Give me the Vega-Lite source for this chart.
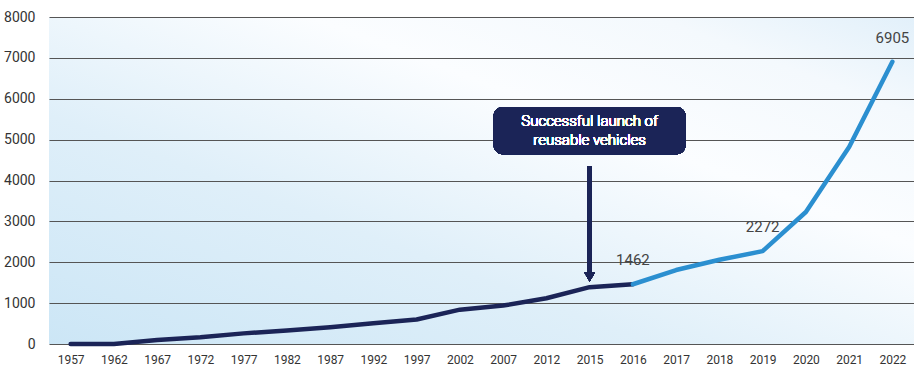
{
  "$schema": "https://vega.github.io/schema/vega-lite/v6.json",
  "width": 865,
  "height": 327,
  "autosize": {"type": "none"},
  "padding": {"left": 49, "top": 17, "right": 0, "bottom": 33},
  "background": "#ffffff",
  "config": {
    "view": {
      "stroke": null,
      "fill": {
        "gradient": "linear",
        "x1": 0, "y1": 1, "x2": 1, "y2": 0,
        "stops": [
          {"offset": 0, "color": "#cce6f6"},
          {"offset": 0.35, "color": "#dfeff9"},
          {"offset": 0.65, "color": "#fbfdff"},
          {"offset": 0.85, "color": "#f4f9fd"},
          {"offset": 1, "color": "#e2f0fa"}
        ]
      }
    },
    "font": "Roboto"
  },
  "data": {
    "values": [
      {"year": "1957", "value": 0, "series": "early"},
      {"year": "1962", "value": 0, "series": "early"},
      {"year": "1967", "value": 100, "series": "early"},
      {"year": "1972", "value": 165, "series": "early"},
      {"year": "1977", "value": 260, "series": "early"},
      {"year": "1982", "value": 330, "series": "early"},
      {"year": "1987", "value": 410, "series": "early"},
      {"year": "1992", "value": 505, "series": "early"},
      {"year": "1997", "value": 600, "series": "early"},
      {"year": "2002", "value": 840, "series": "early"},
      {"year": "2007", "value": 940, "series": "early"},
      {"year": "2012", "value": 1120, "series": "early"},
      {"year": "2015", "value": 1390, "series": "early"},
      {"year": "2016", "value": 1462, "series": "early", "label": "1462"},
      {"year": "2016", "value": 1462, "series": "recent"},
      {"year": "2017", "value": 1810, "series": "recent"},
      {"year": "2018", "value": 2060, "series": "recent"},
      {"year": "2019", "value": 2272, "series": "recent", "label": "2272"},
      {"year": "2020", "value": 3230, "series": "recent"},
      {"year": "2021", "value": 4820, "series": "recent"},
      {"year": "2022", "value": 6905, "series": "recent", "label": "6905"}
    ]
  },
  "encoding": {
    "x": {
      "field": "year",
      "type": "ordinal",
      "scale": {"type": "point", "padding": 0.5},
      "axis": {
        "title": null,
        "labelAngle": 0,
        "ticks": false,
        "domain": false,
        "labelFontSize": 12,
        "labelColor": "#333333",
        "labelPadding": 10,
        "grid": false
      }
    }
  },
  "layer": [
    {
      "mark": {"type": "line", "strokeWidth": 4.5, "strokeCap": "round", "strokeJoin": "round"},
      "encoding": {
        "y": {
          "field": "value",
          "type": "quantitative",
          "scale": {"domain": [0, 8000], "nice": false},
          "axis": {
            "title": null,
            "values": [0, 1000, 2000, 3000, 4000, 5000, 6000, 7000, 8000],
            "format": "d",
            "ticks": false,
            "domain": false,
            "labelFontSize": 14,
            "labelColor": "#333333",
            "labelPadding": 14,
            "grid": true,
            "gridColor": "#555555",
            "gridWidth": 1,
            "gridOpacity": 1
          }
        },
        "color": {
          "field": "series",
          "type": "nominal",
          "scale": {"domain": ["early", "recent"], "range": ["#1b2457", "#2b8fd0"]},
          "legend": null
        }
      }
    },
    {
      "transform": [{"filter": "datum.label"}],
      "mark": {"type": "text", "fontSize": 15, "color": "#444444", "dy": -24},
      "encoding": {
        "y": {"field": "value", "type": "quantitative"},
        "text": {"field": "label"}
      }
    },
    {
      "mark": {"type": "rule", "strokeWidth": 4, "color": "#1b2457"},
      "encoding": {
        "x": {"datum": "2015"},
        "y": {"datum": 4350, "type": "quantitative"},
        "y2": {"datum": 1700}
      }
    },
    {
      "mark": {"type": "point", "shape": "triangle-down", "filled": true, "size": 110, "color": "#1b2457", "opacity": 1},
      "encoding": {
        "x": {"datum": "2015"},
        "y": {"datum": 1640, "type": "quantitative"}
      }
    },
    {
      "mark": {"type": "bar", "width": 192, "cornerRadius": 9, "color": "#1b2457"},
      "encoding": {
        "x": {"datum": "2015"},
        "y": {"datum": 5800, "type": "quantitative"},
        "y2": {"datum": 4640}
      }
    },
    {
      "mark": {"type": "text", "fontSize": 15, "fontWeight": 300, "color": "#ffffff", "lineHeight": 19, "align": "center", "baseline": "middle"},
      "encoding": {
        "x": {"datum": "2015"},
        "y": {"datum": 5446, "type": "quantitative"},
        "text": {"value": ["Successful launch of", "reusable vehicles"]}
      }
    }
  ]
}
